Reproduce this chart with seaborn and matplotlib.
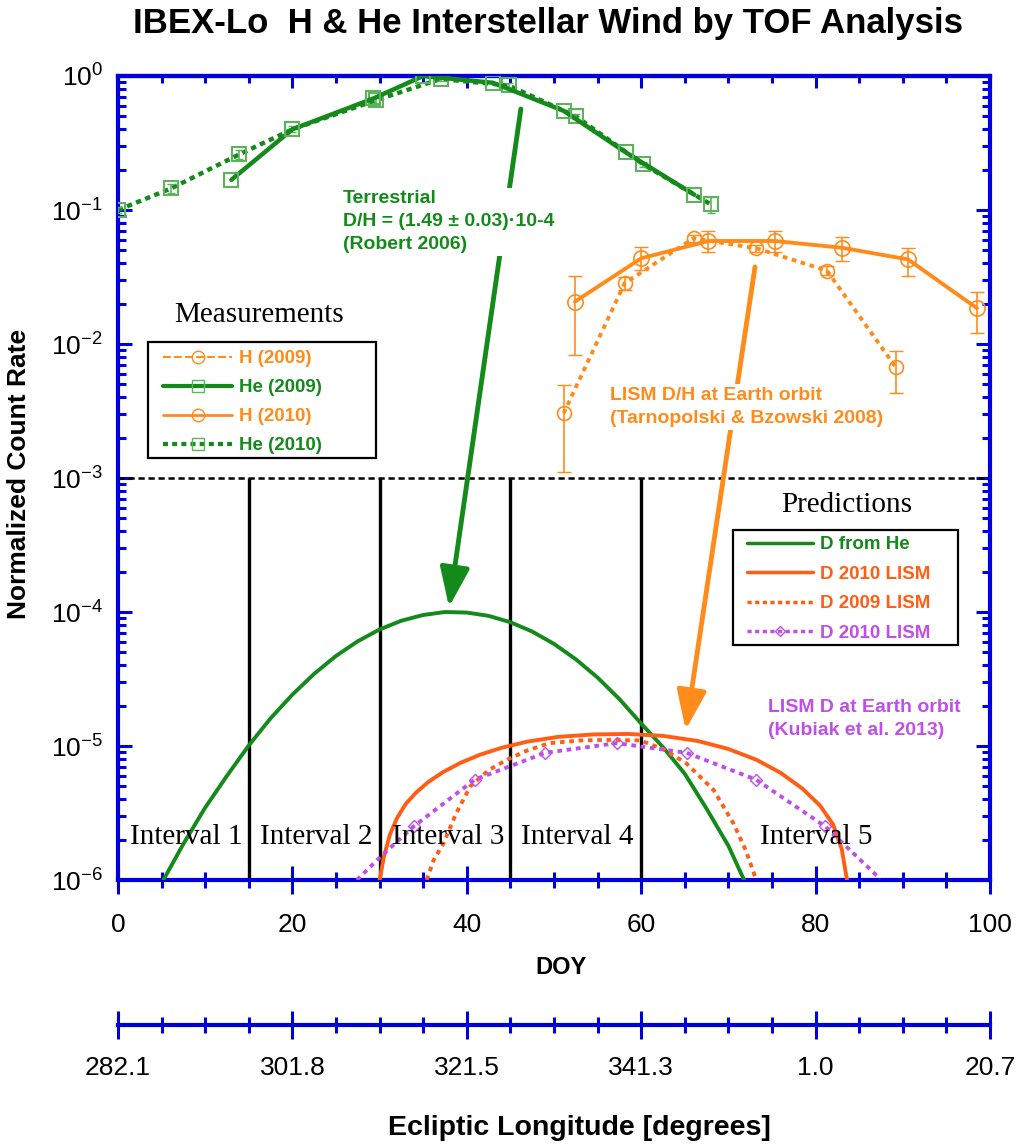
import matplotlib
matplotlib.use("Agg")
import matplotlib.pyplot as plt
import seaborn as sns
from matplotlib.lines import Line2D
from matplotlib.patches import Rectangle
from matplotlib.ticker import MultipleLocator, NullFormatter

# --- measured He count rates (normalized) ---
he09_doy = [13.0, 20.0, 29.3, 35.0, 43.0, 51.1, 58.2, 66.1]
he09_rate = [0.168, 0.40, 0.68, 1.0, 0.89, 0.55, 0.27, 0.13]

he10_doy = [0.0, 6.1, 13.9, 20.0, 29.6, 37.0, 44.8, 52.5, 60.2, 68.0]
he10_rate = [0.10, 0.145, 0.26, 0.40, 0.66, 0.95, 0.85, 0.50, 0.22, 0.11]
he10_lo = [0.095, 0.135, 0.24, 0.38, 0.63, 0.91, 0.81, 0.48, 0.21, 0.095]
he10_hi = [0.105, 0.155, 0.28, 0.42, 0.69, 0.99, 0.89, 0.52, 0.23, 0.125]

# --- measured H count rates with error bars ---
h09_doy = [51.1, 58.1, 66.0, 73.2, 81.3, 89.2]
h09_rate = [0.00304, 0.0284, 0.0615, 0.0518, 0.0353, 0.0067]
h09_lo = [0.00111, 0.0255, 0.058, 0.049, 0.033, 0.00428]
h09_hi = [0.00494, 0.0315, 0.065, 0.055, 0.038, 0.00887]

h10_doy = [52.4, 60.0, 67.7, 75.3, 83.0, 90.6, 98.5]
h10_rate = [0.0207, 0.0436, 0.0587, 0.0587, 0.0523, 0.0428, 0.0185]
h10_lo = [0.0083, 0.0357, 0.0483, 0.0483, 0.0416, 0.032, 0.012]
h10_hi = [0.032, 0.053, 0.0697, 0.0697, 0.063, 0.052, 0.0243]

# --- predicted D count rates ---
dhe_doy = [5.2, 7.5, 10, 12.5, 15, 17.5, 20, 22.5, 25, 27.5, 30, 32.5, 35, 37.5,
           40, 42.5, 45, 47.5, 50, 52.5, 55, 57.5, 60, 62.5, 65, 67.5, 70, 71.8]
dhe_rate = [1.0e-6, 1.86e-6, 3.47e-6, 6.0e-6, 1.01e-5, 1.61e-5, 2.42e-5, 3.46e-5,
            4.7e-5, 6.05e-5, 7.41e-5, 8.61e-5, 9.5e-5, 1.0e-4, 9.9e-5, 9.36e-5,
            8.39e-5, 7.15e-5, 5.78e-5, 4.44e-5, 3.24e-5, 2.24e-5, 1.47e-5, 9.8e-6,
            6.2e-6, 3.4e-6, 1.8e-6, 1.0e-6]

d10_doy = [30.0, 30.5, 31.2, 32.0, 33.0, 34.2, 35.6, 37.3, 39.3, 41.5, 44.0, 47.0,
           50.5, 54.5, 58.5, 62.5, 66.5, 70.0, 73.2, 76.0, 78.5, 80.5, 82.0, 83.0, 83.6]
d10_rate = [1.0e-6, 1.5e-6, 2.2e-6, 2.9e-6, 3.7e-6, 4.5e-6, 5.4e-6, 6.4e-6,
            7.5e-6, 8.6e-6, 9.7e-6, 1.08e-5, 1.17e-5, 1.22e-5, 1.23e-5, 1.19e-5,
            1.09e-5, 9.5e-6, 7.9e-6, 6.3e-6, 4.8e-6, 3.6e-6, 2.6e-6, 1.7e-6, 1.0e-6]

d09_doy = [35.4, 36.2, 37.3, 38.8, 40.4, 42.5, 44.6, 47.0, 49.5, 53.0, 56.0, 59.9,
           62.5, 65.2, 68.3, 70.6, 72.0, 73.2]
d09_rate = [1.0e-6, 1.41e-6, 1.86e-6, 3.16e-6, 5.0e-6, 6.6e-6, 7.9e-6, 9.3e-6,
            1.05e-5, 1.1e-5, 1.11e-5, 1.1e-5, 9.5e-6, 7.4e-6, 4.7e-6, 2.63e-6,
            1.66e-6, 1.0e-6]

dk_doy = [27.4, 30.05, 33.9, 40.9, 49.0, 57.2, 65.2, 73.2, 81.1, 87.4]
dk_rate = [1.0e-6, 1.48e-6, 2.51e-6, 5.6e-6, 8.9e-6, 1.05e-5, 8.9e-6, 5.6e-6,
           2.51e-6, 1.02e-6]

interval_edges = [15, 30, 45, 60]
interval_names = ["Interval 1", "Interval 2", "Interval 3", "Interval 4", "Interval 5"]
interval_x = [7.8, 22.7, 37.85, 52.7, 80.1]

doy_ticks = [0, 20, 40, 60, 80, 100]
ecl_labels = ["282.1", "301.8", "321.5", "341.3", "1.0", "20.7"]

# colours
blue = "#0000DD"
green = "#138A1A"
green_mk = "#5DB35D"
h_orange = "#FF8C1A"
d_orange = "#FF5E14"
purple = "#BF4FE6"

sns.set_style("ticks")
plt.rcParams["font.family"] = ["Liberation Sans", "DejaVu Sans"]
plt.rcParams["text.color"] = "black"
plt.rcParams["mathtext.fontset"] = "custom"
plt.rcParams["mathtext.rm"] = "Liberation Sans"
plt.rcParams["mathtext.it"] = "Liberation Sans:italic"
plt.rcParams["mathtext.bf"] = "Liberation Sans:bold"

W, H = 1024, 1147
fig = plt.figure(figsize=(W / 100, H / 100), dpi=100)
ax = fig.add_axes([118 / W, 1 - 880 / H, 872 / W, 804 / H])

# --- measurements ---
sns.lineplot(x=he10_doy, y=he10_rate, ax=ax, color=green, lw=3.2, ls=(0, (1.2, 1.0)),
             marker="s", ms=10, mfc="none", mec=green_mk, mew=1.5, legend=False, zorder=4)
ax.errorbar(he10_doy, he10_rate,
            yerr=[[r - l for r, l in zip(he10_rate, he10_lo)],
                  [h - r for r, h in zip(he10_rate, he10_hi)]],
            fmt="none", ecolor=green_mk, elinewidth=1.2, capsize=3, zorder=4)
sns.lineplot(x=he09_doy, y=he09_rate, ax=ax, color=green, lw=3.2, ls="-",
             marker="s", ms=10, mfc="none", mec=green_mk, mew=1.5, legend=False, zorder=4)

sns.lineplot(x=h09_doy, y=h09_rate, ax=ax, color=h_orange, lw=2.8, ls=(0, (1.2, 1.2)),
             marker="o", ms=10, mfc="none", mec=h_orange, mew=1.2, legend=False, zorder=4)
ax.errorbar(h09_doy, h09_rate,
            yerr=[[r - l for r, l in zip(h09_rate, h09_lo)],
                  [h - r for r, h in zip(h09_rate, h09_hi)]],
            fmt="none", ecolor=h_orange, elinewidth=1.2, capsize=5, zorder=4)
sns.lineplot(x=h10_doy, y=h10_rate, ax=ax, color=h_orange, lw=2.8, ls="-",
             marker="o", ms=11, mfc="none", mec=h_orange, mew=1.2, legend=False, zorder=4)
ax.errorbar(h10_doy, h10_rate,
            yerr=[[r - l for r, l in zip(h10_rate, h10_lo)],
                  [h - r for r, h in zip(h10_rate, h10_hi)]],
            fmt="none", ecolor=h_orange, elinewidth=1.2, capsize=5, zorder=4)

# --- predictions ---
sns.lineplot(x=dhe_doy, y=dhe_rate, ax=ax, color=green, lw=2.8, legend=False, zorder=3)
sns.lineplot(x=d10_doy, y=d10_rate, ax=ax, color=d_orange, lw=2.8, legend=False, zorder=3)
sns.lineplot(x=d09_doy, y=d09_rate, ax=ax, color=d_orange, lw=2.8, ls=(0, (1.2, 1.2)),
             legend=False, zorder=3)
sns.lineplot(x=dk_doy, y=dk_rate, ax=ax, color=purple, lw=2.8, ls=(0, (1.2, 1.2)),
             marker="D", ms=6, mfc="none", mec=purple, mew=1.0,
             markevery=list(range(2, 9)), legend=False, zorder=3)

# intervals and threshold
ax.vlines(interval_edges, 1e-6, 1e-3, color="black", lw=2.4, zorder=2)
ax.axhline(1e-3, color="black", lw=1.8, ls=(0, (2.5, 1.5)), zorder=2)
for name, xc in zip(interval_names, interval_x):
    ax.text(xc, 2.1e-6, name, family="Liberation Serif", fontsize=21,
            ha="center", va="center", zorder=5)

# arrows with annotations
ax.annotate("", xy=(37.96, 1.09e-4), xytext=(46.2, 0.567),
            arrowprops=dict(arrowstyle="-|>,head_width=0.45,head_length=1.2",
                            color=green, lw=3.5, shrinkA=0, shrinkB=0, mutation_scale=20),
            zorder=5)
ax.annotate("", xy=(65.1, 1.32e-5), xytext=(73.05, 0.0376),
            arrowprops=dict(arrowstyle="-|>,head_width=0.45,head_length=1.2",
                            color=h_orange, lw=3.5, shrinkA=0, shrinkB=0, mutation_scale=20),
            zorder=5)
ax.text(25.8, 0.0818, "Terrestrial\nD/H = (1.49 \u00b1 0.03)\u00b710-4\n(Robert 2006)",
        color=green, fontsize=14, fontweight="bold", ha="left", va="center",
        linespacing=1.45, zorder=6,
        bbox=dict(facecolor="white", edgecolor="none", pad=2))
ax.text(56.4, 0.00339, "LISM D/H at Earth orbit\n(Tarnopolski & Bzowski 2008)",
        color=h_orange, fontsize=14, fontweight="bold", ha="left", va="center",
        linespacing=1.45, zorder=6,
        bbox=dict(facecolor="white", edgecolor="none", pad=2))
ax.text(74.5, 1.58e-5, "LISM D at Earth orbit\n(Kubiak et al. 2013)",
        color=purple, fontsize=14, fontweight="bold", ha="left", va="center",
        linespacing=1.45, zorder=6)

# --- axes styling ---
ax.set_yscale("log")
ax.set_xlim(0, 100)
ax.set_ylim(1e-6, 1)
ax.xaxis.set_major_locator(MultipleLocator(20))
ax.xaxis.set_minor_locator(MultipleLocator(5))
ax.yaxis.set_minor_formatter(NullFormatter())
for s in ax.spines.values():
    s.set_color(blue)
    s.set_linewidth(3)
ax.tick_params(axis="x", which="both", direction="inout", color=blue, width=2.2,
               labelsize=19, labelcolor="black", pad=14, top=False)
ax.tick_params(axis="x", which="major", length=20)
ax.tick_params(axis="x", which="minor", length=12)
ax.tick_params(axis="y", which="both", direction="in", color=blue, width=2.2,
               labelsize=19, labelcolor="black", pad=11, right=True)
ax.tick_params(axis="y", which="major", length=10)
ax.tick_params(axis="y", which="minor", length=5.5)
top = ax.secondary_xaxis("top")
top.xaxis.set_major_locator(MultipleLocator(20))
top.xaxis.set_minor_locator(MultipleLocator(5))
top.tick_params(which="both", direction="in", color=blue, width=2.2, labeltop=False)
top.tick_params(which="major", length=8.5)
top.tick_params(which="minor", length=5)
top.spines["top"].set_color(blue)
top.spines["top"].set_linewidth(3)

# --- legends (frames drawn separately to match box sizes) ---
leg_font = dict(family="Liberation Sans", weight="bold", size=13.5)
meas_handles = [
    Line2D([], [], color=h_orange, lw=1.5, ls="--", marker="o", ms=9, mfc="none", mec=h_orange),
    Line2D([], [], color=green, lw=3, ls="-", marker="s", ms=9, mfc="none", mec=green_mk),
    Line2D([], [], color=h_orange, lw=2, ls="-", marker="o", ms=9, mfc="none", mec=h_orange),
    Line2D([], [], color=green, lw=3, ls=(0, (1.2, 1.0)), marker="s", ms=9, mfc="none", mec=green_mk),
]
meas_labels = ["H (2009)", "He (2009)", "H (2010)", "He (2010)"]
leg1 = ax.legend(meas_handles, meas_labels, loc="upper left",
                 bbox_to_anchor=(163 / W, 1 - 350 / H), bbox_transform=fig.transFigure,
                 prop=leg_font, labelcolor="linecolor", frameon=False,
                 handlelength=3.7, handletextpad=0.37,
                 labelspacing=0.64, borderpad=0, borderaxespad=0)
ax.add_artist(leg1)
fig.add_artist(Rectangle((148 / W, 1 - 458 / H), 228 / W, 116 / H, transform=fig.transFigure,
                         fill=False, edgecolor="black", lw=1.6))

pred_handles = [
    Line2D([], [], color=green, lw=2.5, ls="-"),
    Line2D([], [], color=d_orange, lw=2.5, ls="-"),
    Line2D([], [], color=d_orange, lw=2.5, ls=(0, (1.2, 1.0))),
    Line2D([], [], color=purple, lw=2.5, ls=(0, (1.2, 1.0)), marker="D", ms=5,
           mfc="none", mec=purple),
]
pred_labels = ["D from He", "D 2010 LISM", "D 2009 LISM", "D 2010 LISM"]
ax.legend(pred_handles, pred_labels, loc="upper left",
          bbox_to_anchor=(747 / W, 1 - 536 / H), bbox_transform=fig.transFigure,
          prop=leg_font, labelcolor="linecolor", frameon=False,
          handlelength=3.5, handletextpad=0.37,
          labelspacing=0.66, borderpad=0, borderaxespad=0)
fig.add_artist(Rectangle((733 / W, 1 - 645 / H), 225 / W, 115 / H, transform=fig.transFigure,
                         fill=False, edgecolor="black", lw=1.6))

fig.text(259 / W, 1 - 315 / H, "Measurements", family="Liberation Serif", fontsize=21,
         ha="center", va="center")
fig.text(847 / W, 1 - 505 / H, "Predictions", family="Liberation Serif", fontsize=21,
         ha="center", va="center")

# --- ecliptic longitude axis ---
axe = fig.add_axes([118 / W, 1 - 1025 / H, 872 / W, 1e-5])
axe.patch.set_visible(False)
axe.set_xlim(0, 100)
axe.set_yticks([])
for s in ["top", "left", "right"]:
    axe.spines[s].set_visible(False)
axe.spines["bottom"].set_color(blue)
axe.spines["bottom"].set_linewidth(3)
axe.set_xticks(doy_ticks)
axe.set_xticklabels(ecl_labels)
axe.xaxis.set_minor_locator(MultipleLocator(5))
axe.tick_params(axis="x", which="both", direction="inout", color=blue, width=2.2,
                labelsize=19, labelcolor="black", pad=12)
axe.tick_params(axis="x", which="major", length=20)
axe.tick_params(axis="x", which="minor", length=11.5)

# --- titles and axis labels ---
fig.text(548 / W, 1 - 24 / H, "IBEX-Lo  H & He Interstellar Wind by TOF Analysis",
         fontsize=25, fontweight="bold", ha="center", va="center")
fig.text(561 / W, 1 - 968 / H, "DOY", fontsize=17, fontweight="bold", ha="center", va="center")
fig.text(579 / W, 1 - 1128 / H, "Ecliptic Longitude [degrees]", fontsize=20.5,
         fontweight="bold", ha="center", va="center")
fig.text(19 / W, 1 - 474 / H, "Normalized Count Rate", fontsize=19, fontweight="bold",
         ha="center", va="center", rotation=90)

fig.savefig("out.png", dpi=100)
